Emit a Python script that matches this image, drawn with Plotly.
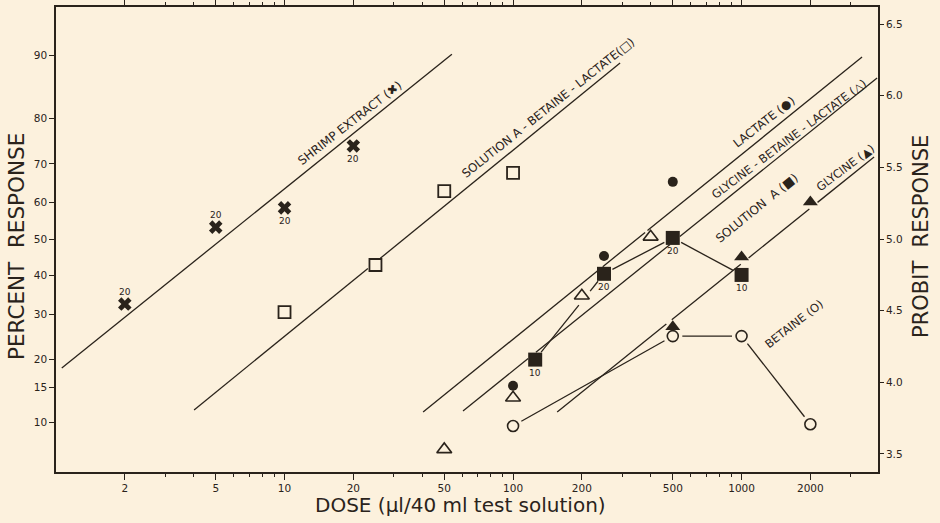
import math
from statistics import NormalDist
import plotly.graph_objects as go

# ---------------- data ----------------
shrimp_dose = [2, 5, 10, 20]
shrimp_pct = [32.5, 53.3, 58.6, 74.2]
shrimp_n = ["20", "20", "20", "20"]

solabl_dose = [10, 25, 50, 100]
solabl_pct = [30.5, 42.8, 63.1, 67.8]

lactate_dose = [100, 250, 500]
lactate_pct = [15.3, 45.3, 65.5]

gbl_dose = [50, 100, 200, 400]
gbl_pct = [7.1, 13.4, 34.6, 50.6]

sola_dose = [125, 250, 500, 1000]
sola_pct = [20.0, 40.4, 50.3, 40.1]
sola_n = ["10", "20", "20", "10"]

glycine_dose = [500, 1000, 2000]
glycine_pct = [27.0, 45.0, 60.2]

betaine_dose = [100, 500, 1000, 2000]
betaine_pct = [9.6, 24.9, 24.9, 9.8]

# fitted probit lines (dose endpoints, probit endpoints)
shrimp_fit_dose = [1.06, 54]
shrimp_fit_probit = [4.10, 6.29]
solabl_fit_dose = [4.02, 294]
solabl_fit_probit = [3.807, 6.228]
lactate_fit_dose = [40.4, 3367]
lactate_fit_probit = [3.793, 6.270]
gbl_fit_dose = [60.4, 3917]
gbl_fit_probit = [3.80, 6.124]
glycine_fit_dose = [156, 3800]
glycine_fit_probit = [3.793, 5.573]

percent_ticks = [10, 15, 20, 30, 40, 50, 60, 70, 80, 90]
probit_ticks = [3.5, 4.0, 4.5, 5.0, 5.5, 6.0, 6.5]
dose_ticks = [2, 5, 10, 20, 50, 100, 200, 500, 1000, 2000]
dose_minor = [3, 4, 6, 7, 8, 9, 30, 40, 60, 70, 80, 90,
              300, 400, 600, 700, 800, 900, 3000]

# ---------------- style / layout ----------------
BG = "#FCF1DD"
INK = "#2a231b"
FONT = "DejaVu Sans"
W, H = 940, 523
ML, MR, MT, MB = 56, 62, 7, 51
PW, PH = W - ML - MR, H - MT - MB
XR = [0.0, 3.597]
YR = [3.374, 6.619]

nd = NormalDist()


def probit(pcts):
    return [5 + nd.inv_cdf(p / 100.0) for p in pcts]


def to_px(d, p):
    return ((math.log10(d) - XR[0]) / (XR[1] - XR[0]) * PW,
            (p - YR[0]) / (YR[1] - YR[0]) * PH)


def from_px(u, v):
    return (10 ** (XR[0] + u / PW * (XR[1] - XR[0])),
            YR[0] + v / PH * (YR[1] - YR[0]))


series = {
    "shrimp": (shrimp_dose, probit(shrimp_pct)),
    "solabl": (solabl_dose, probit(solabl_pct)),
    "lactate": (lactate_dose, probit(lactate_pct)),
    "gbl": (gbl_dose, probit(gbl_pct)),
    "sola": (sola_dose, probit(sola_pct)),
    "glycine": (glycine_dose, probit(glycine_pct)),
    "betaine": (betaine_dose, probit(betaine_pct)),
}

centers = []
for k, (ds, ps) in series.items():
    for d, p in zip(ds, ps):
        centers.append(to_px(d, p))


def clipped(doses, probits, r):
    xs, ys = [], []

    def emit(run):
        if len(run) >= 2:
            for (u, v) in (run[0], run[-1]):
                d, p = from_px(u, v)
                xs.append(d)
                ys.append(p)
            xs.append(None)
            ys.append(None)

    for i in range(len(doses) - 1):
        a = to_px(doses[i], probits[i])
        b = to_px(doses[i + 1], probits[i + 1])
        L = math.hypot(b[0] - a[0], b[1] - a[1])
        n = max(int(L * 2), 2)
        run = []
        for k in range(n + 1):
            t = k / n
            u = a[0] + (b[0] - a[0]) * t
            v = a[1] + (b[1] - a[1]) * t
            ok = all(math.hypot(u - cx, v - cy) >= r for cx, cy in centers)
            if ok:
                run.append((u, v))
            else:
                emit(run)
                run = []
        emit(run)
    return xs, ys


fig = go.Figure()

line_style = dict(color=INK, width=1.3)

# fitted lines
fits = [
    (shrimp_fit_dose, shrimp_fit_probit, 0),
    (solabl_fit_dose, solabl_fit_probit, 8),
    (lactate_fit_dose, lactate_fit_probit, 7),
    (gbl_fit_dose, gbl_fit_probit, 7),
    (glycine_fit_dose, glycine_fit_probit, 7),
]
for fd, fp, r in fits:
    if r > 0:
        xs, ys = clipped(fd, fp, r)
    else:
        xs, ys = fd, fp
    fig.add_trace(go.Scatter(x=xs, y=ys, mode="lines", line=line_style,
                             hoverinfo="skip", showlegend=False))

# connecting lines between observed points
for key in ["sola", "betaine"]:
    ds, ps = series[key]
    xs, ys = clipped(ds, ps, 9.5)
    fig.add_trace(go.Scatter(x=xs, y=ys, mode="lines", line=line_style,
                             hoverinfo="skip", showlegend=False))

# markers
marker_styles = {
    "shrimp": dict(symbol="x", size=12, color=INK, line=dict(width=0)),
    "solabl": dict(symbol="square", size=12, color=BG, line=dict(color=INK, width=1.8)),
    "lactate": dict(symbol="circle", size=10, color=INK, line=dict(width=0)),
    "gbl": dict(symbol="triangle-up", size=13, color=BG, line=dict(color=INK, width=1.6)),
    "sola": dict(symbol="square", size=14, color=INK, line=dict(width=0)),
    "glycine": dict(symbol="triangle-up", size=13, color=INK, line=dict(width=0)),
    "betaine": dict(symbol="circle", size=11, color=BG, line=dict(color=INK, width=1.6)),
}
for key in ["betaine", "shrimp", "solabl", "lactate", "gbl", "sola", "glycine"]:
    ds, ps = series[key]
    fig.add_trace(go.Scatter(x=ds, y=ps, mode="markers", marker=marker_styles[key],
                             hoverinfo="skip", showlegend=False))

# invisible trace to activate the right axis
fig.add_trace(go.Scatter(x=[10], y=[5], yaxis="y2", mode="markers",
                         marker=dict(opacity=0), hoverinfo="skip", showlegend=False))

annotations = []

# sample-size labels
shrimp_pos = [1, 1, -1, -1]
sola_pos = [-1, -1, -1, -1]
for (key, labels, pos) in [("shrimp", shrimp_n, shrimp_pos), ("sola", sola_n, sola_pos)]:
    ds, ps = series[key]
    for d, p, t, s in zip(ds, ps, labels, pos):
        annotations.append(dict(x=math.log10(d), y=p, xref="x", yref="y", text=t,
                                showarrow=False, yshift=12 * s if s > 0 else -13,
                                font=dict(family=FONT, size=9, color=INK)))


def paper(px, py):
    return (px - ML) / PW, (H - MB - py) / PH


curve_labels = [
    ("SHRIMP EXTRACT (✖)", 350, 123, -38, 12),
    ("SOLUTION A - BETAINE - LACTATE(□)", 548, 108, -38.5, 11.8),
    ("LACTATE (●)", 764, 122, -38, 11.8),
    ("GLYCINE - BETAINE - LACTATE (△)", 789, 139, -37, 11.5),
    ("SOLUTION  A (■)", 757, 208, -39, 12),
    ("GLYCINE (▲)", 845, 168, -37, 11.5),
    ("BETAINE (O)", 794, 324, -38, 11.5),
]
for text, px, py, ang, fs in curve_labels:
    x, y = paper(px, py)
    annotations.append(dict(x=x, y=y, xref="paper", yref="paper", text=text,
                            showarrow=False, textangle=ang, xanchor="center",
                            yanchor="middle",
                            font=dict(family=FONT, size=fs, color=INK)))

# axis titles
titles = [
    ("PERCENT  RESPONSE", 16, 247, -90, 21.5),
    ("PROBIT  RESPONSE", 921, 237, -90, 21),
    ("DOSE (μl/40 ml test solution)", 460, 505, 0, 20),
]
for text, px, py, ang, fs in titles:
    x, y = paper(px, py)
    annotations.append(dict(x=x, y=y, xref="paper", yref="paper", text=text,
                            showarrow=False, textangle=ang, xanchor="center",
                            yanchor="middle",
                            font=dict(family=FONT, size=fs, color=INK)))

tick_font = dict(family=FONT, size=10.5, color=INK)

fig.update_layout(
    width=W, height=H,
    margin=dict(l=ML, r=MR, t=MT, b=MB, autoexpand=False),
    paper_bgcolor=BG, plot_bgcolor=BG,
    annotations=annotations,
    xaxis=dict(type="log", range=XR, showgrid=False, zeroline=False,
               showline=True, linecolor=INK, linewidth=1.6, mirror="ticks",
               ticks="outside", ticklen=6, tickwidth=1.2, tickcolor=INK,
               tickvals=dose_ticks, ticktext=[str(v) for v in dose_ticks],
               tickfont=tick_font, automargin=False,
               minor=dict(tickvals=dose_minor, ticks="outside", ticklen=3,
                          tickcolor=INK, tickwidth=1, showgrid=False)),
    yaxis=dict(range=YR, showgrid=False, zeroline=False,
               showline=True, linecolor=INK, linewidth=1.6,
               ticks="outside", ticklen=5, tickwidth=1.2, tickcolor=INK,
               tickvals=probit(percent_ticks),
               ticktext=[str(v) for v in percent_ticks],
               tickfont=tick_font, automargin=False),
    yaxis2=dict(range=YR, overlaying="y", side="right", showgrid=False,
                zeroline=False, showline=True, linecolor=INK, linewidth=1.6,
                ticks="outside", ticklen=4, tickwidth=1.2, tickcolor=INK,
                tickvals=probit_ticks,
                ticktext=[f"{v:.1f}" for v in probit_ticks],
                tickfont=tick_font, automargin=False),
)

page_fix = (
    "document.body.style.margin='0';"
    "document.body.style.overflow='hidden';"
    "document.body.style.background='" + BG + "';"
)
fig.write_html("out.html", post_script=page_fix,
               config={"displayModeBar": False})
